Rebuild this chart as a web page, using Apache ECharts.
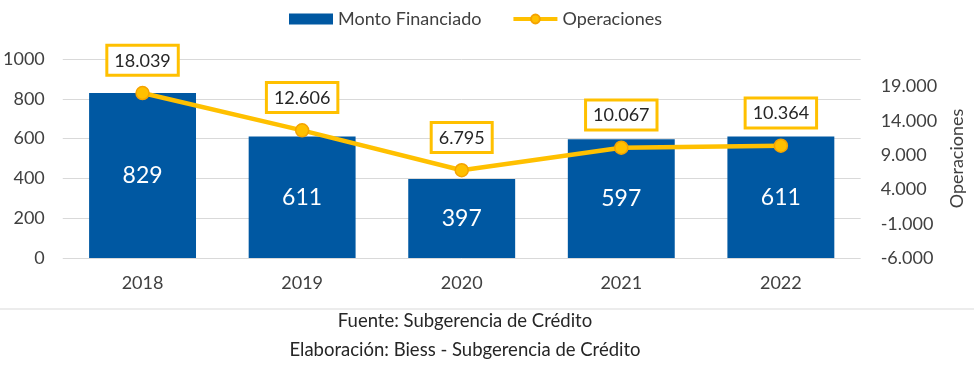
<!DOCTYPE html>
<html><head><meta charset="utf-8">
<script src="https://cdn.jsdelivr.net/npm/echarts@6/dist/echarts.min.js"></script>
<style>html,body{margin:0;padding:0;background:#fff}#c{width:974px;height:372px}</style>
</head><body><div id="c"></div>
<script>
var categories = ['2018', '2019', '2020', '2021', '2022'];
var montoFinanciado = [829, 611, 397, 597, 611];
var operaciones = [18039, 12606, 6795, 10067, 10364];
var leftTicks = [0, 200, 400, 600, 800, 1000];
var rightTicks = [-6000, -1000, 4000, 9000, 14000, 19000];
var footerLines = ['Fuente: Subgerencia de Crédito', 'Elaboración: Biess - Subgerencia de Crédito'];

var FONT = 'Lato';
function fmt(v) {
  var neg = v < 0; var s = String(Math.abs(Math.round(v)));
  s = s.replace(/\B(?=(\d{3})+(?!\d))/g, '.');
  return (neg ? '-' : '') + s;
}
var chart = echarts.init(document.getElementById('c'));
chart.setOption({
  animation: false,
  textStyle: { fontFamily: FONT },
  legend: {
    top: 5, left: 284, itemGap: 30, itemWidth: 44, itemHeight: 11,
    textStyle: { fontSize: 18, color: '#404040', fontFamily: FONT },
    lineStyle: { width: 4 },
    data: [
      { name: 'Monto Financiado', icon: 'rect' },
      { name: 'Operaciones' }
    ]
  },
  grid: { left: 61, right: 112, top: 59, bottom: 114, containLabel: false },
  xAxis: {
    type: 'category', data: categories,
    axisLine: { show: false }, axisTick: { show: false },
    axisLabel: { fontSize: 18, color: '#404040', margin: 16, fontFamily: FONT }
  },
  yAxis: [
    {
      type: 'value', min: leftTicks[0], max: leftTicks[leftTicks.length - 1], interval: 200,
      axisLine: { show: false }, axisTick: { show: false },
      axisLabel: { fontSize: 18, color: '#404040', margin: 18, fontFamily: FONT,
        formatter: function (v) { return String(v); } },
      splitLine: { lineStyle: { color: '#d9d9d9', width: 1 } }
    },
    {
      type: 'value', min: rightTicks[0], max: 23000, interval: 5000,
      position: 'right',
      name: 'Operaciones', nameLocation: 'middle', nameGap: 86, nameRotate: 90,
      nameTextStyle: { fontSize: 18, color: '#404040', fontFamily: FONT },
      axisLine: { show: false }, axisTick: { show: false }, splitLine: { show: false },
      axisLabel: {
        fontSize: 18, color: '#404040', margin: 20, fontFamily: FONT,
        formatter: function (v) { return rightTicks.indexOf(v) >= 0 ? fmt(v) : ''; }
      }
    }
  ],
  series: [
    {
      name: 'Monto Financiado', type: 'bar', data: montoFinanciado, yAxisIndex: 0,
      barWidth: '67%',
      itemStyle: { color: '#0058A2' },
      label: { show: true, position: 'inside', color: '#ffffff', fontSize: 23, fontFamily: FONT }
    },
    {
      name: 'Operaciones', type: 'line', data: operaciones, yAxisIndex: 1,
      symbol: 'circle', symbolSize: 13,
      lineStyle: { color: '#FFC000', width: 4.5 },
      itemStyle: { color: '#FFC000', borderColor: '#F5A300', borderWidth: 1.5 },
      label: {
        show: true, position: 'top', distance: 12,
        formatter: function (p) { return fmt(p.value); },
        color: '#262626', fontSize: 18, fontFamily: FONT,
        backgroundColor: '#ffffff', borderColor: '#FFC000', borderWidth: 3,
        padding: [5, 6, 4, 6]
      },
      z: 5
    }
  ],
  graphic: [
    { type: 'line', shape: { x1: 0, y1: 309, x2: 974, y2: 309 }, style: { stroke: '#d9d9d9', lineWidth: 1 } },
    { type: 'text', x: 465, y: 312, style: { text: footerLines[0], align: 'center', textAlign: 'center', fontSize: 18.5, fill: '#262626', fontFamily: FONT } },
    { type: 'text', x: 465, y: 341, style: { text: footerLines[1], align: 'center', textAlign: 'center', fontSize: 18.5, fill: '#262626', fontFamily: FONT } }
  ]
});
</script></body></html>
